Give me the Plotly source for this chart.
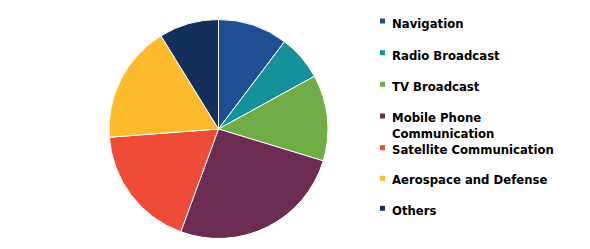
import plotly.graph_objects as go

labels = ["Navigation", "Radio Broadcast", "TV Broadcast", "Mobile Phone Communication",
          "Satellite Communication", "Aerospace and Defense", "Others"]
legend_lines = [["Navigation"], ["Radio Broadcast"], ["TV Broadcast"], ["Mobile Phone", "Communication"],
                ["Satellite Communication"], ["Aerospace and Defense"], ["Others"]]
values = [10.3, 6.7, 12.7, 25.9, 18.2, 17.4, 8.8]
colors = ["#1F4E93", "#14919B", "#70AD47", "#6D2D53", "#F04B37", "#FDBB2B", "#142F5A"]

W, H = 590, 249
fig = go.Figure()
fig.add_trace(go.Pie(
    labels=labels, values=values, sort=False, direction="clockwise", rotation=0,
    marker=dict(colors=colors, line=dict(color="white", width=1)),
    textinfo="none", hoverinfo="label+percent", showlegend=False,
    domain=dict(x=[109 / W, 328 / W], y=[1 - 238.5 / H, 1 - 19.5 / H]),
))

# legend drawn manually to match the reference spacing
text_y = [24, 55.7, 87, 118.5, 149.8, 180.2, 211]
sq_y = [21, 52.7, 84.3, 116, 147.7, 178.3, 208.3]
for i, (lines, c) in enumerate(zip(legend_lines, colors)):
    for k, t in enumerate(lines):
        yt = text_y[i] + k * 15.6
        fig.add_annotation(
            x=391 / W, y=1 - yt / H, xref="paper", yref="paper",
            text="<b>" + t + "</b>", showarrow=False,
            xanchor="left", yanchor="middle", align="left",
            font=dict(family="DejaVu Sans", size=11.7, color="black"),
            borderpad=0,
        )
    ys = sq_y[i]
    fig.add_shape(type="rect", xref="paper", yref="paper",
                  x0=380 / W, x1=385 / W, y0=1 - (ys + 2.5) / H, y1=1 - (ys - 2.5) / H,
                  fillcolor=c, line=dict(width=0))

fig.update_layout(
    width=W, height=H, margin=dict(l=0, r=0, t=0, b=0),
    paper_bgcolor="white", plot_bgcolor="white", showlegend=False,
)
fig.write_html("out.html")
